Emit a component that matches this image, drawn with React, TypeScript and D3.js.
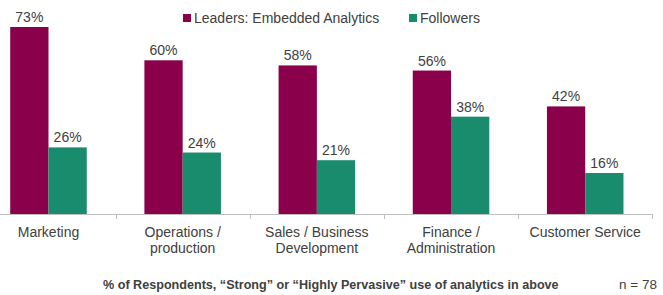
import React from 'react'
import * as d3 from 'd3'

const CATEGORIES = ['Marketing', 'Operations / production', 'Sales / Business Development', 'Finance / Administration', 'Customer Service']
const CATEGORY_LINES = [['Marketing'], ['Operations /', 'production'], ['Sales / Business', 'Development'], ['Finance /', 'Administration'], ['Customer Service']]
const SERIES = ['Leaders: Embedded Analytics', 'Followers']
const LEADERS = [73, 60, 58, 56, 42]
const FOLLOWERS = [26, 24, 21, 38, 16]
const COLORS = ['#8a004a', '#1a8c6e']

const W = 663
const H = 295
const BASE_Y = 214
const FONT = '"Liberation Sans", Arial, sans-serif'
const TEXT = '#404040'

export default function App() {
  const x0 = d3.scaleBand<string>().domain(CATEGORIES).range([-18.6, 652.3]).paddingInner(0)
  const x1 = d3.scaleBand<string>().domain(SERIES).range([0, x0.bandwidth()]).paddingInner(0).paddingOuter(0.753)
  const y = d3.scaleLinear().domain([0, 73]).range([BASE_Y, 27])
  const values = [LEADERS, FOLLOWERS]

  return (
    <div style={{ position: 'fixed', left: 0, top: 0 }}>
      <svg width={W} height={H} style={{ display: 'block', background: '#fff' }} fontFamily={FONT}>
        {/* legend */}
        {SERIES.map((s, i) => {
          const lx = i === 0 ? 183 : 409
          return (
            <g key={s}>
              <rect x={lx} y={14} width={8} height={8} fill={COLORS[i]} />
              <text x={lx + 11} y={23} fontSize={14} fill={TEXT}>{s}</text>
            </g>
          )
        })}

        {/* bars */}
        {CATEGORIES.map((c, ci) => (
          <g key={c} transform={`translate(${x0(c)},0)`}>
            {SERIES.map((s, si) => {
              const v = values[si][ci]
              const bx = x1(s)!
              return (
                <g key={s}>
                  <rect x={bx} y={y(v)} width={x1.bandwidth()} height={BASE_Y - y(v)} fill={COLORS[si]} />
                  <text x={bx + x1.bandwidth() / 2} y={y(v) - 5} textAnchor="middle" fontSize={14} fill={TEXT}>{v}%</text>
                </g>
              )
            })}
            {CATEGORY_LINES[ci].map((line, li) => (
              <text key={li} x={x0.bandwidth() / 2} y={237 + li * 16} textAnchor="middle" fontSize={14} fill={TEXT}>{line}</text>
            ))}
          </g>
        ))}

        {/* axis */}
        <line x1={0} x2={652.3} y1={BASE_Y + 0.5} y2={BASE_Y + 0.5} stroke="#bfbfbf" strokeWidth={1} />
        {CATEGORIES.map(c => {
          const tx = Math.round(x0(c)! + x0.bandwidth()) + 0.5
          return <line key={c} x1={tx} x2={tx} y1={BASE_Y} y2={BASE_Y + 5} stroke="#bfbfbf" />
        })}

        {/* footer */}
        <text x={103} y={289} fontSize={12.6} fontWeight="bold" fill={TEXT}>% of Respondents, “Strong” or “Highly Pervasive” use of analytics in above</text>
        <text x={619} y={289} fontSize={13.5} fill={TEXT}>n = 78</text>
      </svg>
    </div>
  )
}
